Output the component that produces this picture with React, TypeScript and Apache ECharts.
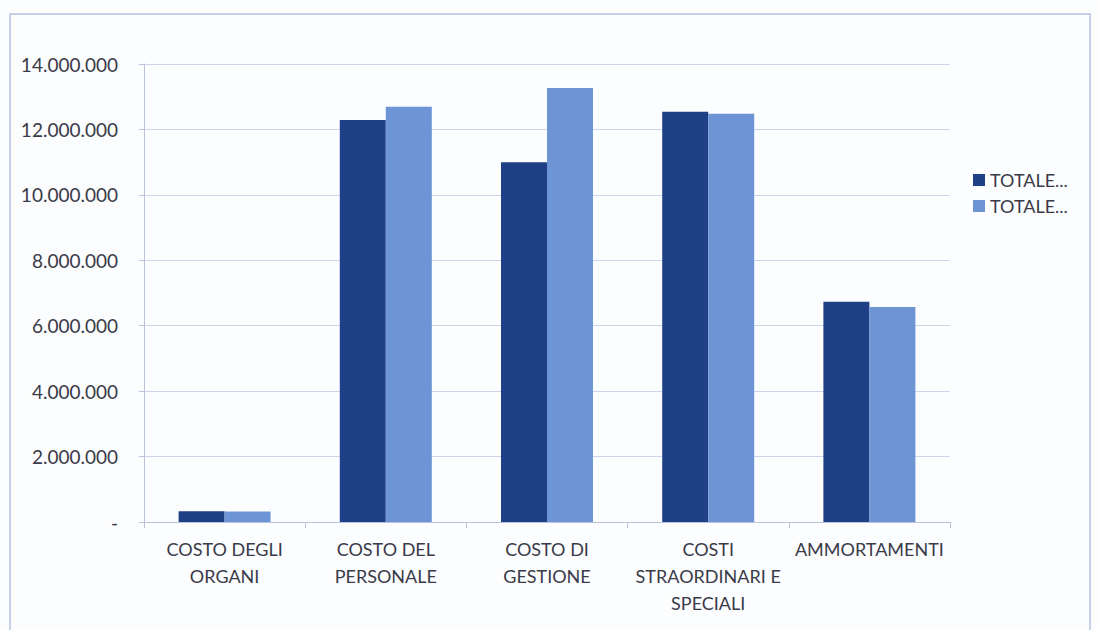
import React, { useEffect, useRef } from "react";
import * as echarts from "echarts";

const categories = [
  "COSTO DEGLI\nORGANI",
  "COSTO DEL\nPERSONALE",
  "COSTO DI\nGESTIONE",
  "COSTI\nSTRAORDINARI E\nSPECIALI",
  "AMMORTAMENTI",
];
const seriesNames = ["TOTALE A", "TOTALE B"];
const totaleA = [330000, 12290000, 11000000, 12540000, 6730000];
const totaleB = [320000, 12690000, 13270000, 12480000, 6570000];
const legendLabel = "TOTALE...";

function fmt(v: number): string {
  if (v === 0) return "-";
  return String(Math.round(v)).replace(/\B(?=(\d{3})+(?!\d))/g, ".");
}

export default function App() {
  const ref = useRef<HTMLDivElement>(null);
  useEffect(() => {
    document.body.style.margin = "0";
    const chart = echarts.init(ref.current!, null, { renderer: "svg" });
    const font = "Lato, 'Open Sans', sans-serif";
    chart.setOption({
      animation: false,
      backgroundColor: "#fcfdff",
      textStyle: { fontFamily: font },
      graphic: [
        {
          type: "rect",
          shape: { x: 10, y: 14, width: 1080, height: 640 },
          style: { fill: "none", stroke: "#b4c1de", lineWidth: 1.5 },
          silent: true,
        },
      ],
      grid: { left: 144, right: 148, top: 64, bottom: 108, containLabel: false },
      legend: {
        orient: "vertical",
        left: 968,
        top: 166,
        itemWidth: 12,
        itemHeight: 12,
        itemGap: 8,
        icon: "rect",
        formatter: () => legendLabel,
        textStyle: { color: "#3a3a48", fontSize: 18, fontFamily: font },
        data: seriesNames,
      },
      xAxis: {
        type: "category",
        data: categories,
        axisLine: { lineStyle: { color: "#b9c3dc", width: 1 } },
        axisTick: { show: true, length: 6, lineStyle: { color: "#b9c3dc" } },
        axisLabel: {
          color: "#3a3a48",
          fontSize: 18,
          lineHeight: 27,
          margin: 13,
          interval: 0,
          fontFamily: font,
        },
      },
      yAxis: {
        type: "value",
        min: 0,
        max: 14000000,
        interval: 2000000,
        axisLine: { show: true, lineStyle: { color: "#b9c3dc", width: 1 } },
        axisTick: { show: true, length: 5, lineStyle: { color: "#b9c3dc" } },
        splitLine: { lineStyle: { color: "#ccd4ea", width: 1 } },
        axisLabel: {
          color: "#3a3a48",
          fontSize: 19,
          margin: 26,
          formatter: (v: number) => fmt(v),
          fontFamily: font,
        },
      },
      series: [
        {
          name: seriesNames[0],
          type: "bar",
          data: totaleA,
          barWidth: 46,
          barGap: "0%",
          itemStyle: { color: "#1f3f87" },
        },
        {
          name: seriesNames[1],
          type: "bar",
          data: totaleB,
          barWidth: 46,
          barGap: "0%",
          itemStyle: { color: "#6d95d6" },
        },
      ],
    });
    return () => chart.dispose();
  }, []);
  return <div ref={ref} style={{ width: 1098, height: 630 }} />;
}
